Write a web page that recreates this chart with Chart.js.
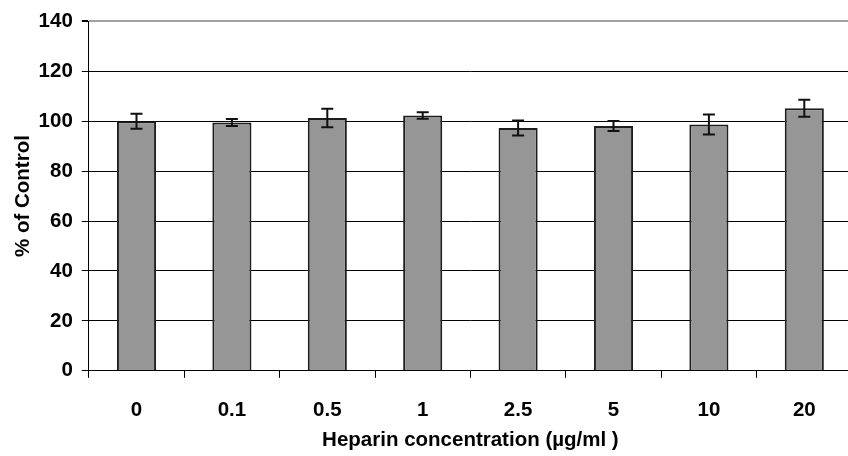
<!DOCTYPE html>
<html>
<head>
<meta charset="utf-8">
<script src="https://cdn.jsdelivr.net/npm/chart.js@4"></script>
<style>
  html, body { margin: 0; padding: 0; background: #fff; overflow: hidden; }
  #wrap { width: 852px; height: 456px; }
</style>
</head>
<body>
<div id="wrap"><canvas id="heparinChart" width="852" height="456"></canvas></div>
<script>
const concentrations = ['0', '0.1', '0.5', '1', '2.5', '5', '10', '20'];
const percentControl = [100, 99.5, 101.3, 102.3, 97.3, 98.1, 98.7, 105.2];
const errorValues = [3, 1.4, 3.7, 1.3, 3, 2, 4, 3.4];
const yTicks = [0, 20, 40, 60, 80, 100, 120, 140];

// draws the +/- error bars on top of each bar
const errorBarPlugin = {
    id: 'errorBars',
    afterDatasetsDraw(chart) {
        const ctx = chart.ctx;
        const meta = chart.getDatasetMeta(0);
        const yScale = chart.scales.y;
        ctx.save();
        ctx.strokeStyle = '#111';
        ctx.lineWidth = 2;
        meta.data.forEach((bar, i) => {
            const x = bar.x;
            const top = yScale.getPixelForValue(percentControl[i] + errorValues[i]);
            const bottom = yScale.getPixelForValue(percentControl[i] - errorValues[i]);
            ctx.beginPath();
            ctx.moveTo(x, top);
            ctx.lineTo(x, bottom);
            ctx.moveTo(x - 6, top);
            ctx.lineTo(x + 6, top);
            ctx.moveTo(x - 6, bottom);
            ctx.lineTo(x + 6, bottom);
            ctx.stroke();
        });
        ctx.restore();
    }
};

const font = { family: '"Liberation Sans", Arial, sans-serif', size: 20.5, weight: 'bold' };

new Chart(document.getElementById('heparinChart').getContext('2d'), {
    type: 'bar',
    data: {
        labels: concentrations,
        datasets: [{
            data: percentControl,
            backgroundColor: '#969696',
            borderColor: '#1e1e1e',
            borderWidth: 2,
            barPercentage: 0.41,
            categoryPercentage: 1
        }]
    },
    options: {
        responsive: false,
        animation: false,
        layout: { padding: { top: 11, left: 0, right: 0, bottom: 0 } },
        plugins: {
            legend: { display: false },
            tooltip: { enabled: false }
        },
        scales: {
            x: {
                grid: {
                    offset: true,
                    drawOnChartArea: false,
                    tickLength: 7,
                    tickColor: '#000'
                },
                border: { color: '#000', width: 1 },
                ticks: { color: '#000', font: font, padding: 20, maxRotation: 0 },
                title: {
                    display: true,
                    text: 'Heparin concentration (µg/ml )',
                    color: '#000',
                    font: font,
                    // tick padding is counted twice in the axis height, so pull the title back up
                    padding: { top: -14, bottom: 3 }
                }
            },
            y: {
                min: 0,
                max: 140,
                afterBuildTicks: axis => { axis.ticks = yTicks.map(v => ({ value: v })); },
                grid: {
                    color: c => c.tick && c.tick.value === 140 ? '#a0a0a0' : '#000',
                    lineWidth: c => c.tick && c.tick.value === 140 ? 2 : 1,
                    tickColor: '#000',
                    tickLength: 7
                },
                border: { color: '#000', width: 1 },
                ticks: { color: '#000', font: font, padding: 9 },
                title: {
                    display: true,
                    text: '% of Control',
                    color: '#000',
                    font: font,
                    padding: { top: 11, bottom: -6 }
                }
            }
        }
    },
    plugins: [errorBarPlugin]
});
</script>
</body>
</html>
